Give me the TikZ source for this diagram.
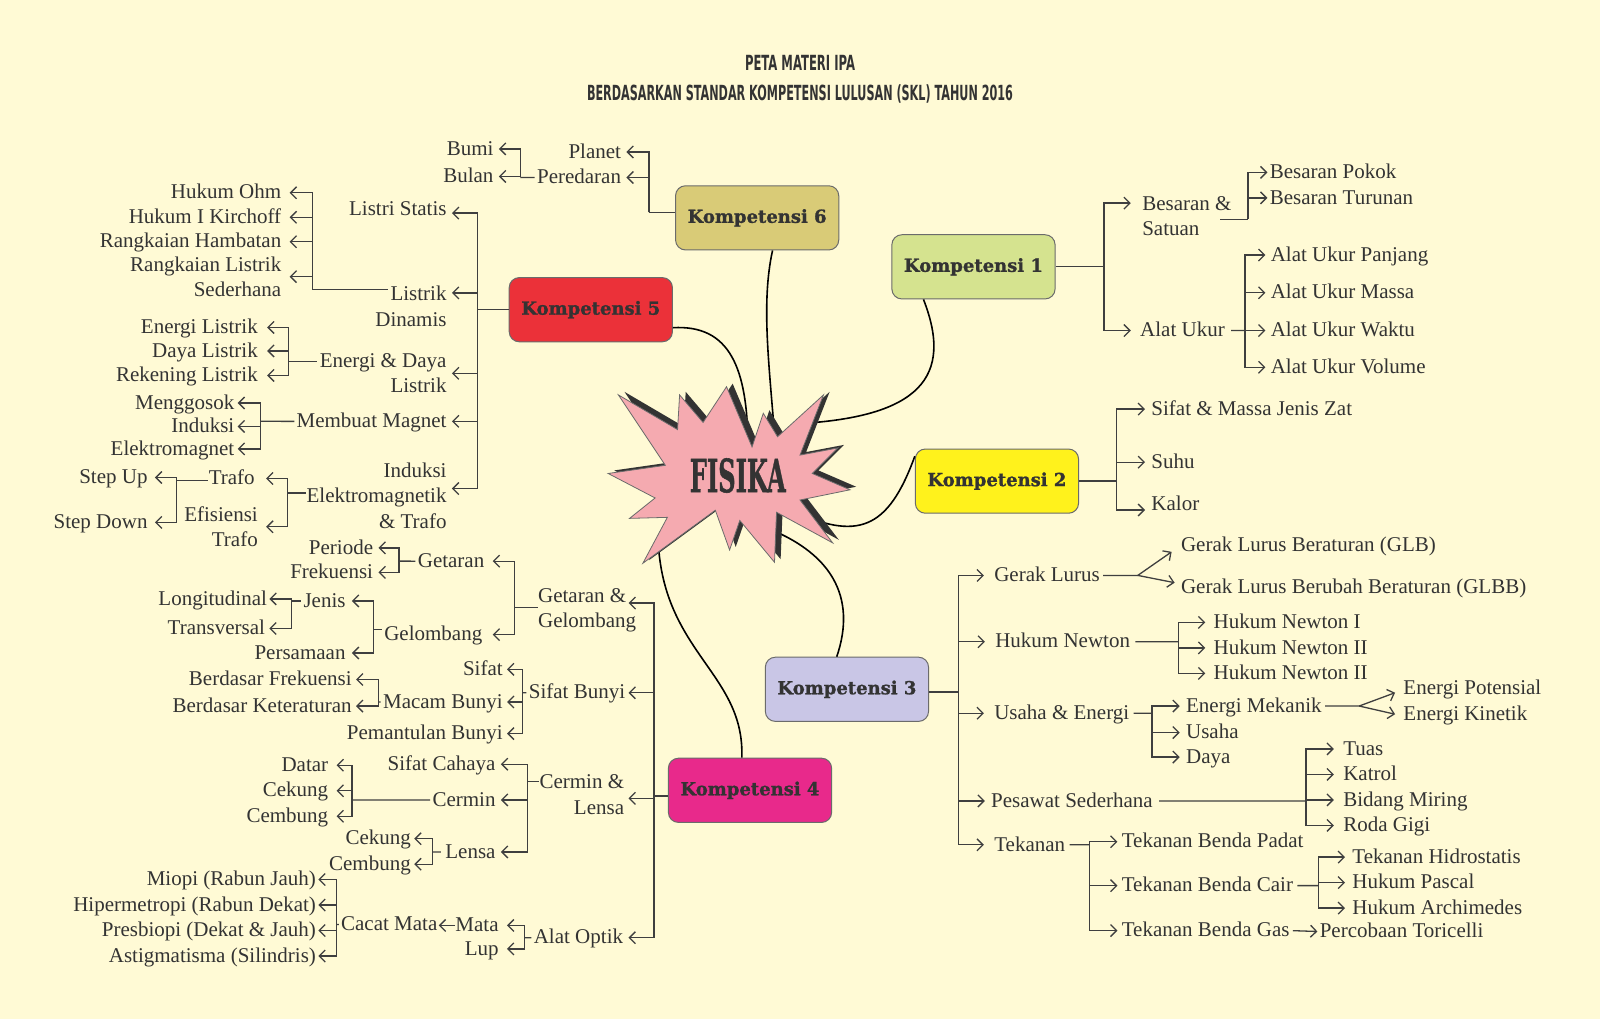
\documentclass[tikz,border=0pt]{standalone}
\usepackage{graphicx}
\usepackage{fontspec}
\setmainfont{Liberation Serif}
\newfontfamily\kompfont{DejaVu Serif}[BoldFeatures={FakeBold=1.2}]
\newfontfamily\ttlfont{DejaVu Sans}
\usetikzlibrary{arrows.meta}
\definecolor{bgc}{HTML}{FFFAD5}
\definecolor{tc}{HTML}{333333}
\definecolor{lc}{HTML}{3F3F3F}
\definecolor{bd}{HTML}{6B6B6B}
\definecolor{kone}{HTML}{D5E38F}
\definecolor{ktwo}{HTML}{FFF21C}
\definecolor{kthree}{HTML}{C9C6E6}
\definecolor{kfour}{HTML}{E8298B}
\definecolor{kfive}{HTML}{EB3139}
\definecolor{ksix}{HTML}{D9CB77}
\definecolor{starc}{HTML}{F5AAB0}
\definecolor{shc}{HTML}{333333}
\begin{document}
\begin{tikzpicture}[x=0.5102pt,y=-0.5102pt,
  txt/.style={inner sep=0pt,text=tc,font=\fontsize{10.5}{12.75}\selectfont},
  L/.style={txt,text height=7.2pt,text depth=1pt,anchor=base west},
  R/.style={txt,text height=7.2pt,text depth=1pt,anchor=base east},
  LM/.style={txt,align=left,anchor=north west},
  RM/.style={txt,align=right,anchor=north east},
  ln/.style={draw=lc,line width=0.65pt},
  arr/.style={ln,-{Straight Barb[length=3pt,width=6pt]}},
  ar/.style={arr,shorten >=#1},
  komp/.style={draw=bd,line width=0.5pt,rounded corners=5pt,minimum width=81.6pt,minimum height=32.1pt,inner sep=0pt,text=tc,font=\kompfont\bfseries\fontsize{9}{11}\selectfont},
  link/.style={draw=black,line width=0.8pt}]
\fill[bgc] (0,0) rectangle (1568,999);
\useasboundingbox (0,0) rectangle (1568,999);

% title
\node[inner sep=0pt,text=tc] (t1) at (784,62) {\resizebox{55pt}{7.6pt}{\ttlfont\bfseries PETA MATERI IPA}};
\node[inner sep=0pt,text=tc] (t2) at (784,92) {\resizebox{213pt}{7.9pt}{\ttlfont\bfseries BERDASARKAN STANDAR KOMPETENSI LULUSAN (SKL) TAHUN 2016}};

% boxes
\node[komp,fill=ksix] (k6) at (742,213.5) {Kompetensi 6};
\node[komp,fill=kone] (k1) at (954,261.5) {Kompetensi 1};
\node[komp,fill=kfive] (k5) at (579,303.5) {Kompetensi 5};
\node[komp,fill=ktwo] (k2) at (977,471.5) {Kompetensi 2};
\node[komp,fill=kthree] (k3) at (830,675.5) {Kompetensi 3};
\node[komp,fill=kfour] (k4) at (735,774.5) {Kompetensi 4};

% curves to the centre
\draw[link] ([xshift=7.7pt]k6.south) .. controls (745,300) and (755,365) .. (760,440);
\draw[link] ([yshift=-9pt]k5.east) .. controls (715,318) and (733,360) .. (733,440);
\draw[link] ([xshift=-25pt]k1.south) .. controls (935,370) and (900,408) .. (785,415);
\draw[link] ([yshift=12.5pt]k2.west) .. controls (870,520) and (840,530) .. (775,500);
\draw[link] ([xshift=-5.1pt]k3.north) .. controls (840,585) and (815,540) .. (745,515);
\draw[link] ([xshift=-4.1pt]k4.north) .. controls (730,660) and (650,640) .. (645,530);

% star
\fill[shc,shift={(6,-3)}] (606,387) -- (664,421) -- (666,387) -- (689,414) -- (712,379) -- (737,438) -- (748,405) -- (762,428) -- (807,387) -- (784,446) -- (821,439) -- (796,464) -- (833,480) -- (784,490) -- (816,532) -- (761,502) -- (759,551) -- (725,510) -- (715,539) -- (701,500) -- (630,552) -- (654,507) -- (617,508) -- (642,488) -- (596,464) -- (652,456) -- cycle;
\filldraw[fill=starc,draw=bd,line width=0.4pt] (606,387) -- (664,421) -- (666,387) -- (689,414) -- (712,379) -- (737,438) -- (748,405) -- (762,428) -- (807,387) -- (784,446) -- (821,439) -- (796,464) -- (833,480) -- (784,490) -- (816,532) -- (761,502) -- (759,551) -- (725,510) -- (715,539) -- (701,500) -- (630,552) -- (654,507) -- (617,508) -- (642,488) -- (596,464) -- (652,456) -- cycle;
\node[inner sep=0pt,text=tc] (fis) at (723,466) {\resizebox{48pt}{17pt}{\kompfont\bfseries FISIKA}};

% ---------- Kompetensi 1
\coordinate (j1) at (1082,261.5);
\draw[ln] (k1.east) -- (j1);
\node[LM] (bs) at (1119,192) {Besaran \&\\Satuan};
\node[L] (au) at (1117,330) {Alat Ukur};
\draw[arr] (j1) |- ([xshift=-5.5pt,yshift=-3.6pt]bs.north west);
\draw[ar=4.5pt] (j1) |- (au.west);
\coordinate (jb0) at (1196,215);
\coordinate (jb) at (1223,215);
\draw[ln] (jb0) -- (jb);
\node[L] (bp) at (1244,175) {Besaran Pokok};
\node[L] (bt) at (1244,200) {Besaran Turunan};
\draw[ar=1pt] (jb) |- (bp.west);
\draw[ar=1pt] (jb) |- (bt.west);
\coordinate (ja) at (1220,323.9);
\draw[ln,shorten >=3pt] (ja) -- (au.east);
\node[L] (a1) at (1245,256) {Alat Ukur Panjang};
\node[L] (a2) at (1245,293) {Alat Ukur Massa};
\node[L] (a3) at (1245,330) {Alat Ukur Waktu};
\node[L] (a4) at (1245,366) {Alat Ukur Volume};
\draw[ar=2.5pt] (ja) |- (a1.west);
\draw[ar=2.5pt] (ja) |- (a2.west);
\draw[ar=2.5pt] (ja) |- (a3.west);
\draw[ar=2.5pt] (ja) |- (a4.west);

% ---------- Kompetensi 2
\coordinate (j2) at (1094,471.5);
\draw[ln] (k2.east) -- (j2);
\node[L] (s1) at (1128,407) {Sifat \& Massa Jenis Zat};
\node[L] (s2) at (1128,459) {Suhu};
\node[L] (s3) at (1128,500) {Kalor};
\draw[ar=3pt] (j2) |- (s1.west);
\draw[ar=3pt] (j2) |- (s2.west);
\draw[arr] (j2) |- ([xshift=-3pt,yshift=-3pt]s3.west);

% ---------- Kompetensi 3
\coordinate (j3) at (939,678);
\draw[ln] (k3.east |- j3) -- (j3);
\node[L] (gl) at (974,570) {Gerak Lurus};
\node[L] (hn) at (975,635) {Hukum Newton};
\node[L] (ue) at (974,705) {Usaha \& Energi};
\node[L] (ps) at (971,791) {Pesawat Sederhana};
\node[L] (tk) at (974,834) {Tekanan};
\draw[ar=5pt] (j3) |- (gl.west);
\draw[ar=5pt] (j3) |- (hn.west);
\draw[ar=5pt] (j3) |- (ue.west);
\draw[ar=3pt] (j3) |- (ps.west);
\draw[ar=5pt] (j3) |- (tk.west);

\coordinate (jgl) at (1115,563.9);
\draw[ln,shorten >=1.5pt] (jgl) -- (gl.east);
\node[L] (glb) at (1157,540) {Gerak Lurus Beraturan (GLB)};
\node[L] (glbb) at (1157,582) {Gerak Lurus Berubah Beraturan (GLBB)};
\draw[arr] (jgl) -- ([xshift=-4.5pt,yshift=-3.5pt]glb.west);
\draw[arr] (jgl) -- ([xshift=-3pt,yshift=2.5pt]glbb.west);

\coordinate (jhn) at (1155,628.9);
\draw[ln,shorten >=2.5pt] (jhn) -- (hn.east);
\node[L] (n1) at (1189,616) {Hukum Newton I};
\node[L] (n2) at (1189,641) {Hukum Newton II};
\node[L] (n3) at (1189,666) {Hukum Newton II};
\draw[ar=4pt] (jhn) |- (n1.west);
\draw[ar=4pt] (jhn) |- (n2.west);
\draw[ar=4pt] (jhn) |- (n3.west);

\coordinate (jue) at (1129,698.9);
\draw[ln,shorten >=2pt] (jue) -- (ue.east);
\node[L] (em) at (1162,698) {Energi Mekanik};
\node[L] (us) at (1162,724) {Usaha};
\node[L] (dy) at (1162,748) {Daya};
\draw[ar=3pt] (jue) |- (em.west);
\draw[ar=3pt] (jue) |- (us.west);
\draw[ar=3pt] (jue) |- (dy.west);

\coordinate (jem) at (1332,691.9);
\draw[ln,shorten >=1.5pt] (jem) -- (em.east);
\node[L] (ep) at (1375,681) {Energi Potensial};
\node[L] (ek) at (1375,706) {Energi Kinetik};
\draw[arr] (jem) -- ([xshift=-4pt,yshift=-2pt]ep.west);
\draw[arr] (jem) -- ([xshift=-4pt]ek.west);

\coordinate (jps) at (1280,784.9);
\draw[ln,shorten >=3pt] (jps) -- (ps.east);
\node[L] (p1) at (1316,740) {Tuas};
\node[L] (p2) at (1316,765) {Katrol};
\node[L] (p3) at (1316,790) {Bidang Miring};
\node[L] (p4) at (1316,815) {Roda Gigi};
\draw[ar=4.5pt] (jps) |- (p1.west);
\draw[ar=4.5pt] (jps) |- (p2.west);
\draw[ar=4.5pt] (jps) |- (p3.west);
\draw[ar=4.5pt] (jps) |- (p4.west);

\coordinate (jtk) at (1068,827.9);
\draw[ln,shorten >=2pt] (jtk) -- (tk.east);
\node[L] (tp) at (1099,831) {Tekanan Benda Padat};
\node[L] (tcair) at (1099,874) {Tekanan Benda Cair};
\node[L] (tg) at (1099,918) {Tekanan Benda Gas};
\draw[ar=2pt] (jtk) |- (tp.west);
\draw[ar=2pt] (jtk) |- (tcair.west);
\draw[ar=2pt] (jtk) |- (tg.west);

\coordinate (jtc) at (1292,867.9);
\draw[ln,shorten >=2pt] (jtc) -- (tcair.east);
\node[L] (h1) at (1325,846) {Tekanan Hidrostatis};
\node[L] (h2) at (1325,871) {Hukum Pascal};
\node[L] (h3) at (1325,896) {Hukum Archimedes};
\draw[ar=3.5pt] (jtc) |- (h1.west);
\draw[ar=3.5pt] (jtc) |- (h2.west);
\draw[ar=3.5pt] (jtc) |- (h3.west);
\node[L] (tor) at (1293,919) {Percobaan Toricelli};
\draw[arr,shorten <=1.5pt,shorten >=1pt] (tg.east) -- (tor.west);

% ---------- Kompetensi 6
\coordinate (j6) at (636,208);
\draw[ln] (k6.west |- j6) -- (j6);
\node[R] (pl) at (609,155) {Planet};
\node[R] (pd) at (609,180) {Peredaran};
\draw[ar=2.5pt] (j6) |- (pl.east);
\draw[ar=2.5pt] (j6) |- (pd.east);
\coordinate (jpd) at (510,173.9);
\draw[ln,shorten >=1pt] (jpd) -- (pd.west);
\node[R] (bm) at (484,152) {Bumi};
\node[R] (bl) at (484,179) {Bulan};
\draw[ar=2.5pt] (jpd) |- (bm.east);
\draw[ar=2.5pt] (jpd) |- (bl.east);

% ---------- Kompetensi 5
\coordinate (j5) at (468,303.5);
\draw[ln] (k5.west) -- (j5);
\node[R] (ls) at (438,211) {Listri Statis};
\node[RM] (ld) at (438,280) {Listrik\\Dinamis};
\node[RM] (ed) at (438,346) {Energi \& Daya\\Listrik};
\node[R] (mm) at (438,419) {Membuat Magnet};
\node[RM] (ie) at (438,453) {Induksi\\Elektromagnetik\\\& Trafo};
\draw[arr] (j5) |- ([xshift=2.5pt,yshift=-2pt]ls.east);
\draw[arr] (j5) |- ([xshift=2.5pt,yshift=-3.6pt]ld.north east);
\draw[ar=2.5pt] (j5) |- (ed.east);
\draw[ar=2.5pt] (j5) |- (mm.east);
\draw[arr] (j5) |- ([xshift=2.5pt,yshift=3.5pt]ie.east);

\coordinate (jd0) at (380,284);
\coordinate (jd) at (306,284);
\draw[ln] (jd0) -- (jd);
\node[R] (ho) at (276,195) {Hukum Ohm};
\node[R] (hk) at (276,219) {Hukum I Kirchoff};
\node[R] (rh) at (276,243) {Rangkaian Hambatan};
\node[RM] (rl) at (276,251) {Rangkaian Listrik\\Sederhana};
\draw[ar=4pt] (jd) |- (ho.east);
\draw[ar=4pt] (jd) |- (hk.east);
\draw[ar=4pt] (jd) |- (rh.east);
\draw[ar=4pt] (jd) |- (rl.east);

\coordinate (je) at (283,354);
\draw[ln,shorten >=1pt] (je) -- (je -| ed.west);
\node[R] (el) at (253,327) {Energi Listrik};
\node[R] (dl) at (253,350) {Daya Listrik};
\node[R] (rk) at (253,374) {Rekening Listrik};
\draw[ar=4.5pt] (je) |- (el.east);
\draw[ar=4.5pt] (je) |- (dl.east);
\draw[ar=4.5pt] (je) |- (rk.east);

\coordinate (jm) at (255,412.9);
\draw[ln,shorten >=1pt] (jm) -- (mm.west);
\node[R] (mg) at (230,401) {Menggosok};
\node[R] (ik) at (230,424) {Induksi};
\node[R] (emg) at (230,446) {Elektromagnet};
\draw[ar=1.5pt] (jm) |- (mg.east);
\draw[ar=1.5pt] (jm) |- (ik.east);
\draw[ar=1.5pt] (jm) |- (emg.east);

\coordinate (ji) at (282,483);
\draw[ln] (ji) -- (ji -| ie.west);
\node[R] (trf) at (250,475) {Trafo};
\node[RM] (ef) at (253,496) {Efisiensi\\Trafo};
\draw[ar=5.5pt] (ji) |- (trf.east);
\draw[ar=4pt] (ji) |- (ef.east);

\coordinate (jtr) at (173,471);
\draw[ln] (jtr) -- (jtr -| trf.west);
\node[R] (su) at (145,474) {Step Up};
\node[R] (sd) at (145,518) {Step Down};
\draw[ar=3.5pt] (jtr) |- (su.east);
\draw[ar=3.5pt] (jtr) |- (sd.east);

% ---------- Kompetensi 4
\coordinate (j4) at (641,780);
\draw[ln] (k4.west |- j4) -- (j4);
\node[LM] (gg) at (527,576) {Getaran \&\\Gelombang};
\node[R] (sbn) at (613,685) {Sifat Bunyi};
\node[RM] (cl) at (612,759) {Cermin \&\\Lensa};
\node[R] (ao) at (611,925) {Alat Optik};
\coordinate (ggt) at (616,591);
\draw[arr] (j4) |- (ggt);
\draw[ar=1.5pt] (j4) |- (sbn.east);
\draw[arr] (j4) |- ([xshift=2pt,yshift=-1.8pt]cl.east);
\draw[ar=2.5pt] (j4) |- (ao.east);

\coordinate (jgg) at (504,595);
\draw[ln] (jgg) -- (jgg -| gg.west);
\node[R] (gt) at (475,556) {Getaran};
\node[R] (gb) at (473,628) {Gelombang};
\draw[ar=4pt] (jgg) |- (gt.east);
\draw[ar=5pt] (jgg) |- (gb.east);

\coordinate (jgt) at (391,549.9);
\draw[ln,shorten >=1pt] (jgt) -- (gt.west);
\node[R] (pe) at (366,543) {Periode};
\node[R] (fr) at (366,567) {Frekuensi};
\draw[ar=2.5pt] (jgt) |- (pe.east);
\draw[ar=2.5pt] (jgt) |- (fr.east);

\coordinate (jgb) at (366,617);
\draw[ln,shorten >=1pt] (jgb) -- (jgb -| gb.west);
\node[R] (jn) at (339,595) {Jenis};
\node[R] (psm) at (339,646) {Persamaan};
\draw[ar=3pt] (jgb) |- (jn.east);
\draw[ar=3pt] (jgb) |- (psm.east);

\coordinate (jjn) at (286,589);
\draw[ln,shorten >=1pt] (jjn) -- (jjn -| jn.west);
\node[R] (lo) at (262,593) {Longitudinal};
\node[R] (tv) at (260,622) {Transversal};
\draw[ar=1pt] (jjn) |- (lo.east);
\draw[ar=2pt] (jjn) |- (tv.east);

\coordinate (jsb) at (512,678.9);
\draw[ln,shorten >=1pt] (jsb) -- (sbn.west);
\node[R] (sf) at (493,662) {Sifat};
\node[R] (mb) at (493,694) {Macam Bunyi};
\node[R] (pb) at (493,725) {Pemantulan Bunyi};
\draw[ar=2pt] (jsb) |- (sf.east);
\draw[ar=2pt] (jsb) |- (mb.east);
\draw[ar=2pt] (jsb) |- (pb.east);

\coordinate (jmb) at (371,687.9);
\draw[ln,shorten >=1pt] (jmb) -- (mb.west);
\node[R] (bf) at (345,672) {Berdasar Frekuensi};
\node[R] (bk) at (345,698) {Berdasar Keteraturan};
\draw[ar=2pt] (jmb) |- (bf.east);
\draw[ar=2pt] (jmb) |- (bk.east);

\coordinate (jcl) at (517,766);
\draw[ln] (jcl) -- (jcl -| cl.west);
\node[R] (sc) at (486,755) {Sifat Cahaya};
\node[R] (cm) at (486,790) {Cermin};
\node[R] (lns) at (486,841) {Lensa};
\draw[ar=2.5pt] (jcl) |- (sc.east);
\draw[ar=2.5pt] (jcl) |- (cm.east);
\draw[ar=2.5pt] (jcl) |- (lns.east);

\coordinate (jcm) at (345,783.9);
\draw[ln,shorten >=1pt] (jcm) -- (cm.west);
\node[R] (dt) at (322,756) {Datar};
\node[R] (ck) at (322,781) {Cekung};
\node[R] (cb) at (322,806) {Cembung};
\draw[ar=4pt] (jcm) |- (dt.east);
\draw[ar=4pt] (jcm) |- (ck.east);
\draw[ar=4pt] (jcm) |- (cb.east);

\coordinate (jls) at (424,834.9);
\draw[ln,shorten >=2pt] (jls) -- (lns.west);
\node[R] (cktwo) at (403,828) {Cekung};
\node[R] (cbtwo) at (403,853) {Cembung};
\draw[ar=1.5pt] (jls) |- (cktwo.east);
\draw[ar=1.5pt] (jls) |- (cbtwo.east);

\coordinate (jao) at (514,918.9);
\draw[ln,shorten >=1pt] (jao) -- (ao.west);
\node[R] (mt) at (489,913) {Mata};
\node[R] (lp) at (489,936) {Lup};
\draw[ar=4pt] (jao) |- (mt.east);
\draw[ar=4pt] (jao) |- (lp.east);
\node[R] (cc) at (429,912) {Cacat Mata};
\draw[arr,shorten >=0.5pt] (mt.west) -- (mt.west -| cc.east);
\coordinate (jcc) at (330,905.9);
\draw[ln,shorten >=1pt] (jcc) -- (cc.west);
\node[R] (mi) at (310,868) {Miopi (Rabun Jauh)};
\node[R] (hp) at (310,893) {Hipermetropi (Rabun Dekat)};
\node[R] (pr) at (310,918) {Presbiopi (Dekat \& Jauh)};
\node[R] (ast) at (310,943) {Astigmatisma (Silindris)};
\draw[ar=1pt] (jcc) |- (mi.east);
\draw[ar=1pt] (jcc) |- (hp.east);
\draw[ar=1pt] (jcc) |- (pr.east);
\draw[ar=1pt] (jcc) |- (ast.east);
\end{tikzpicture}
\end{document}
